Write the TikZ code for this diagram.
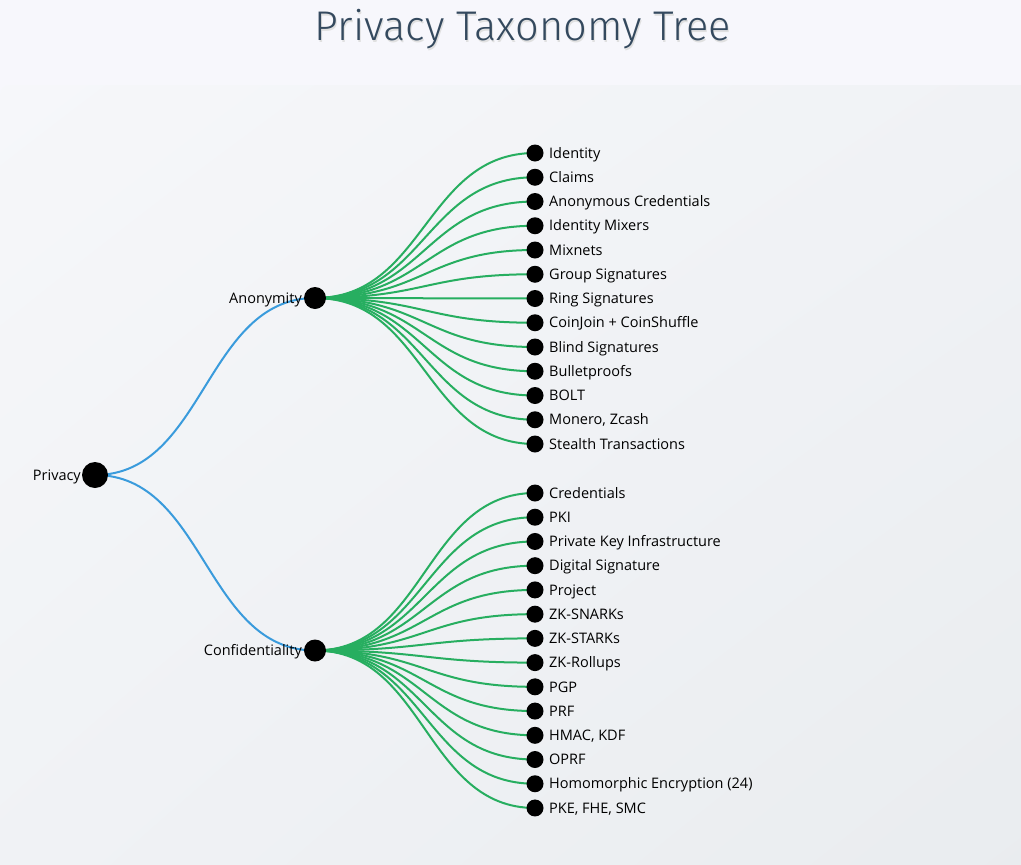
\documentclass[tikz,border=0pt]{standalone}
\usepackage{fontspec}
\usetikzlibrary{shadings}
\setmainfont{Open Sans}
\newfontfamily\titlefont{Fira Sans Light}
\definecolor{hdr}{HTML}{F7F7FC}
\definecolor{pnlA}{HTML}{F6F7FA}
\definecolor{pnlB}{HTML}{E9ECEF}
\definecolor{pnlM}{HTML}{F0F2F5}
\definecolor{bluelink}{HTML}{3A9BDC}
\definecolor{greenlink}{HTML}{27AE60}
\definecolor{titlecol}{HTML}{34495E}
\tikzset{
  dot/.style={circle,fill=black,inner sep=0pt,minimum size=#1},
  leaf/.style={dot=17pt},
  leaflabel/.style={anchor=west,font=\fontsize{14.5}{16}\selectfont,inner sep=0pt},
  parlabel/.style={anchor=east,font=\fontsize{14.5}{16}\selectfont,inner sep=0pt},
  blink/.style={draw=bluelink,line width=2pt},
  glink/.style={draw=greenlink,line width=2pt},
}
\begin{document}
\begin{tikzpicture}[x=1pt,y=-1pt]
\useasboundingbox (0,0) rectangle (1021,865);
\fill[hdr] (0,0) rectangle (1021,865);
\shade[upper left=pnlA,lower right=pnlB,upper right=pnlM,lower left=pnlM,rounded corners=10pt] (0,885) rectangle (1045,85);
% title
\node[text=black!12,font=\titlefont\fontsize{41.5}{46}\selectfont] at (524,31) {Privacy Taxonomy Tree};
\node[text=titlecol,font=\titlefont\fontsize{41.5}{46}\selectfont] (title) at (523,29) {Privacy Taxonomy Tree};
% nodes coords
\coordinate (P) at (95,475);
\coordinate (A) at (315,298);
\coordinate (C) at (315,650.5);
% blue links
\draw[blink] (P) .. controls (205,475) and (205,298) .. (A);
\draw[blink] (P) .. controls (205,475) and (205,650.5) .. (C);
% anonymity leaves
\foreach \t [count=\i from 0] in {Identity,Claims,Anonymous Credentials,Identity Mixers,Mixnets,Group Signatures,Ring Signatures,CoinJoin + CoinShuffle,Blind Signatures,Bulletproofs,BOLT,{Monero, Zcash},Stealth Transactions}{
  \pgfmathsetmacro\yy{153+\i*24.25}
  \coordinate (a\i) at (535,\yy);
  \draw[glink] (A) .. controls (425,298) and (425,\yy) .. (a\i);
}
\foreach \t [count=\i from 0] in {Credentials,PKI,Private Key Infrastructure,Digital Signature,Project,ZK-SNARKs,ZK-STARKs,ZK-Rollups,PGP,PRF,{HMAC, KDF},OPRF,Homomorphic Encryption (24),{PKE, FHE, SMC}}{
  \pgfmathsetmacro\yy{493+\i*24.23}
  \coordinate (c\i) at (535,\yy);
  \draw[glink] (C) .. controls (425,650.5) and (425,\yy) .. (c\i);
}
\foreach \t [count=\i from 0] in {Identity,Claims,Anonymous Credentials,Identity Mixers,Mixnets,Group Signatures,Ring Signatures,CoinJoin + CoinShuffle,Blind Signatures,Bulletproofs,BOLT,{Monero, Zcash},Stealth Transactions}{
  \node[leaf] (an\i) at (a\i) {};
  \node[leaflabel] at ([xshift=14pt,yshift=-2pt]an\i.center) {\t\strut};
}
\foreach \t [count=\i from 0] in {Credentials,PKI,Private Key Infrastructure,Digital Signature,Project,ZK-SNARKs,ZK-STARKs,ZK-Rollups,PGP,PRF,{HMAC, KDF},OPRF,Homomorphic Encryption (24),{PKE, FHE, SMC}}{
  \node[leaf] (cn\i) at (c\i) {};
  \node[leaflabel] at ([xshift=14pt,yshift=-2pt]cn\i.center) {\t\strut};
}
% parent nodes
\node[parlabel] (Pl) at (81,477) {Privacy\strut};
\node[parlabel] (Al) at (302,300) {Anonymity\strut};
\node[parlabel] (Cl) at (302,652.5) {Confidentiality\strut};
\node[dot=26pt] (Pn) at (P) {};
\node[dot=22pt] (An) at (A) {};
\node[dot=22pt] (Cn) at (C) {};
\end{tikzpicture}
\end{document}
